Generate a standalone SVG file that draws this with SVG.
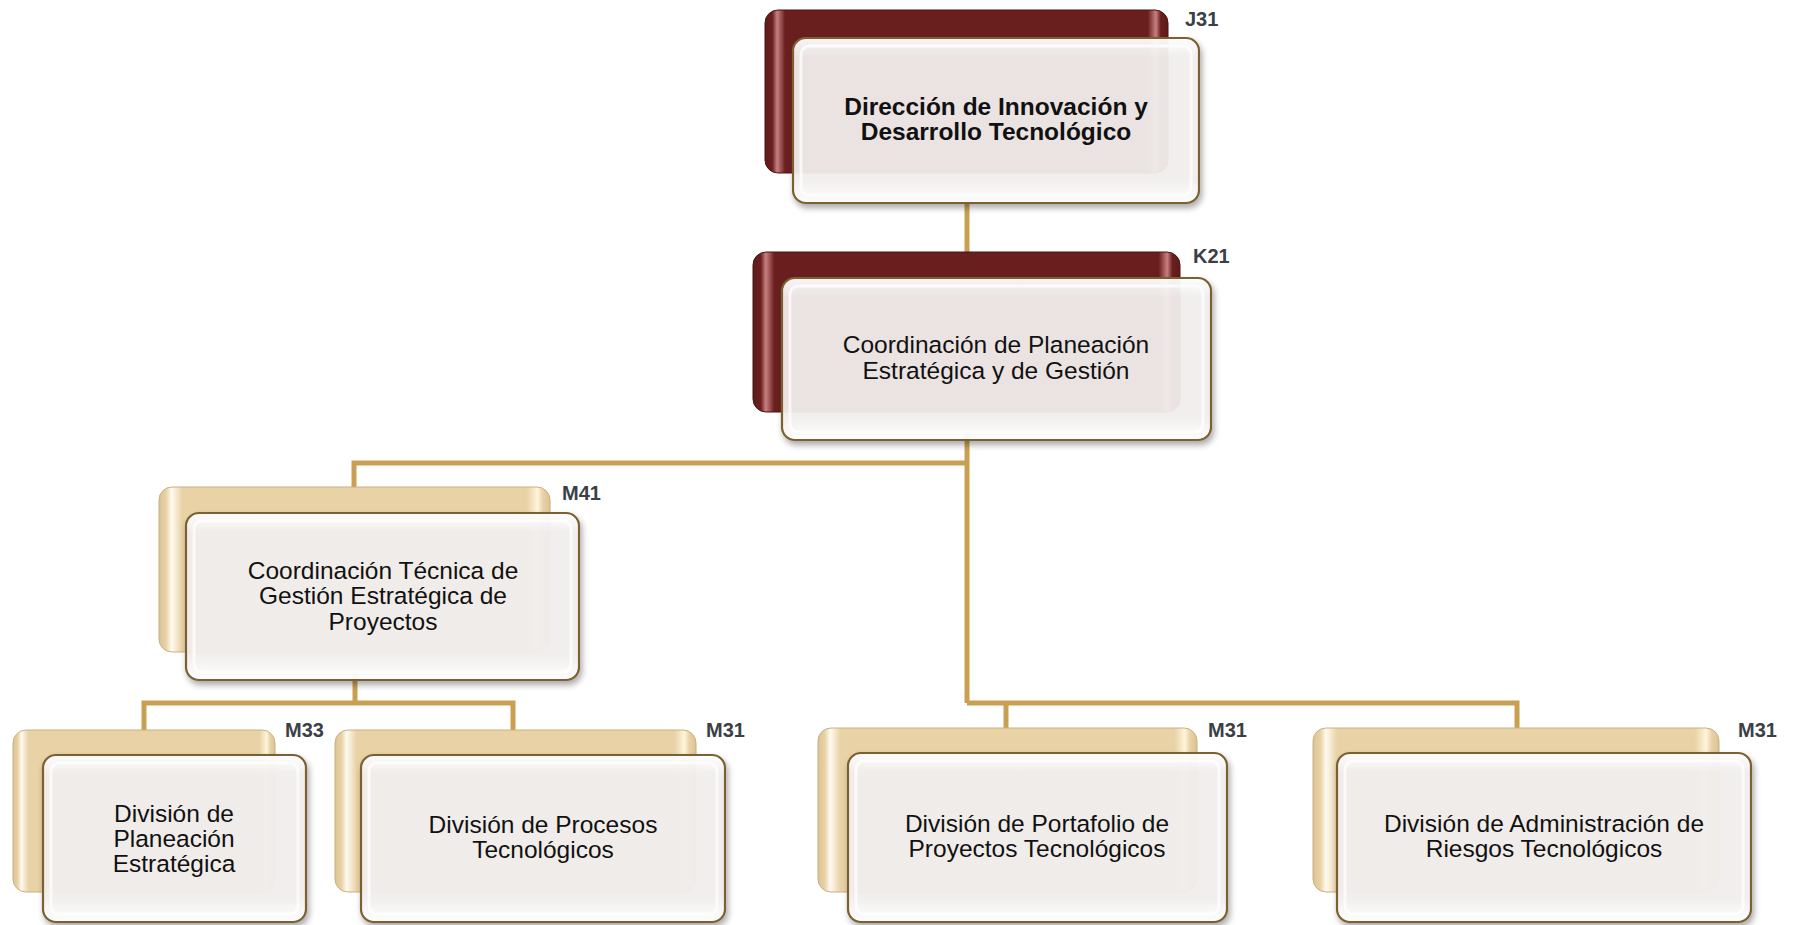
<svg xmlns="http://www.w3.org/2000/svg" width="1797" height="925" viewBox="0 0 1797 925">
<style>
.conn{fill:none;stroke:#C9A052;stroke-width:5;stroke-linejoin:miter}
.backM{fill:url(#gMaroon);stroke:#4a1212;stroke-width:1}
.backB{fill:url(#gBeige);stroke:#c9b080;stroke-width:1}
.front{fill:url(#gFront);stroke:#7D6130;stroke-width:2.2;filter:url(#sh)}
.inner{fill:none;stroke:#ffffff;stroke-width:3;opacity:0.7}
.t{font-family:"Liberation Sans",Arial,sans-serif;font-size:24.5px;fill:#111;text-anchor:middle}
.tb{font-weight:bold}
.lbl{font-family:"Liberation Sans",Arial,sans-serif;font-size:20px;font-weight:bold;fill:#3b4046}
</style>
<defs>
<linearGradient id="gMaroon" x1="0" y1="0" x2="1" y2="0">
<stop offset="0" stop-color="#5e1a1a"/>
<stop offset="0.018" stop-color="#6a1f1f"/>
<stop offset="0.03" stop-color="#c88080"/>
<stop offset="0.05" stop-color="#6a1f1f"/>
<stop offset="0.95" stop-color="#6a1f1f"/>
<stop offset="0.97" stop-color="#c88080"/>
<stop offset="0.982" stop-color="#6a1f1f"/>
<stop offset="1" stop-color="#5e1a1a"/>
</linearGradient>
<linearGradient id="gBeige" x1="0" y1="0" x2="1" y2="0">
<stop offset="0" stop-color="#dcc393"/>
<stop offset="0.018" stop-color="#e8d2a6"/>
<stop offset="0.032" stop-color="#fffaf0"/>
<stop offset="0.06" stop-color="#e8d2a6"/>
<stop offset="0.94" stop-color="#e8d2a6"/>
<stop offset="0.968" stop-color="#fff4dc"/>
<stop offset="0.982" stop-color="#e8d2a6"/>
<stop offset="1" stop-color="#dcc393"/>
</linearGradient>
<linearGradient id="gFront" x1="0" y1="0" x2="0" y2="1">
<stop offset="0" stop-color="#ffffff" stop-opacity="0.95"/>
<stop offset="0.12" stop-color="#f3f0ef" stop-opacity="0.93"/>
<stop offset="0.85" stop-color="#f3f0ef" stop-opacity="0.93"/>
<stop offset="1" stop-color="#ffffff" stop-opacity="0.95"/>
</linearGradient>
<filter id="sh" x="-10%" y="-10%" width="120%" height="130%">
<feDropShadow dx="2" dy="4" stdDeviation="3" flood-color="#000" flood-opacity="0.35"/>
</filter>
</defs>

<g id="connectors">
<path class="conn" d="M967 200 V255"/>
<path class="conn" d="M967 430 V703"/>
<path class="conn" d="M967 463 H354 V490"/>
<path class="conn" d="M967 703 H1517 V730"/>
<path class="conn" d="M1006 703 V730"/>
<path class="conn" d="M355 670 V703"/>
<path class="conn" d="M144 733 V703 H513 V733"/>
</g>

<g id="n-J31">
<rect class="backM" x="765" y="10" width="403" height="163" rx="13"/>
<rect class="front" x="793" y="38" width="406" height="165" rx="13"/>
<rect class="inner" x="801" y="46" width="390" height="149" rx="8"/>
<text class="lbl" x="1185" y="26">J31</text>
<text class="t tb" x="996" y="115">Dirección de Innovación y</text>
<text class="t tb" x="996" y="140">Desarrollo Tecnológico</text>
</g>

<g id="n-K21">
<rect class="backM" x="753" y="252" width="427" height="160" rx="13"/>
<rect class="front" x="782" y="278" width="429" height="162" rx="13"/>
<rect class="inner" x="790" y="286" width="413" height="146" rx="8"/>
<text class="lbl" x="1193" y="263">K21</text>
<text class="t" x="996" y="353">Coordinación de Planeación</text>
<text class="t" x="996" y="379">Estratégica y de Gestión</text>
</g>

<g id="n-M41">
<rect class="backB" x="159" y="487" width="391" height="165" rx="13"/>
<rect class="front" x="186" y="513" width="393" height="167" rx="13"/>
<rect class="inner" x="194" y="521" width="377" height="151" rx="8"/>
<text class="lbl" x="562" y="500">M41</text>
<text class="t" x="383" y="579">Coordinación Técnica de</text>
<text class="t" x="383" y="604">Gestión Estratégica de</text>
<text class="t" x="383" y="630">Proyectos</text>
</g>

<g id="n-M33">
<rect class="backB" x="13" y="730" width="262" height="162" rx="13"/>
<rect class="front" x="43" y="755" width="263" height="167" rx="13"/>
<rect class="inner" x="51" y="763" width="247" height="151" rx="8"/>
<text class="lbl" x="285" y="737">M33</text>
<text class="t" x="174" y="822">División de</text>
<text class="t" x="174" y="847">Planeación</text>
<text class="t" x="174" y="872">Estratégica</text>
</g>

<g id="n-M31a">
<rect class="backB" x="335" y="730" width="361" height="162" rx="13"/>
<rect class="front" x="361" y="755" width="364" height="167" rx="13"/>
<rect class="inner" x="369" y="763" width="348" height="151" rx="8"/>
<text class="lbl" x="706" y="737">M31</text>
<text class="t" x="543" y="833">División de Procesos</text>
<text class="t" x="543" y="858">Tecnológicos</text>
</g>

<g id="n-M31b">
<rect class="backB" x="818" y="728" width="379" height="164" rx="13"/>
<rect class="front" x="848" y="753" width="379" height="169" rx="13"/>
<rect class="inner" x="856" y="761" width="363" height="153" rx="8"/>
<text class="lbl" x="1208" y="737">M31</text>
<text class="t" x="1037" y="832">División de Portafolio de</text>
<text class="t" x="1037" y="857">Proyectos Tecnológicos</text>
</g>

<g id="n-M31c">
<rect class="backB" x="1313" y="728" width="406" height="164" rx="13"/>
<rect class="front" x="1337" y="753" width="414" height="169" rx="13"/>
<rect class="inner" x="1345" y="761" width="398" height="153" rx="8"/>
<text class="lbl" x="1738" y="737">M31</text>
<text class="t" x="1544" y="832">División de Administración de</text>
<text class="t" x="1544" y="857">Riesgos Tecnológicos</text>
</g>
</svg>
